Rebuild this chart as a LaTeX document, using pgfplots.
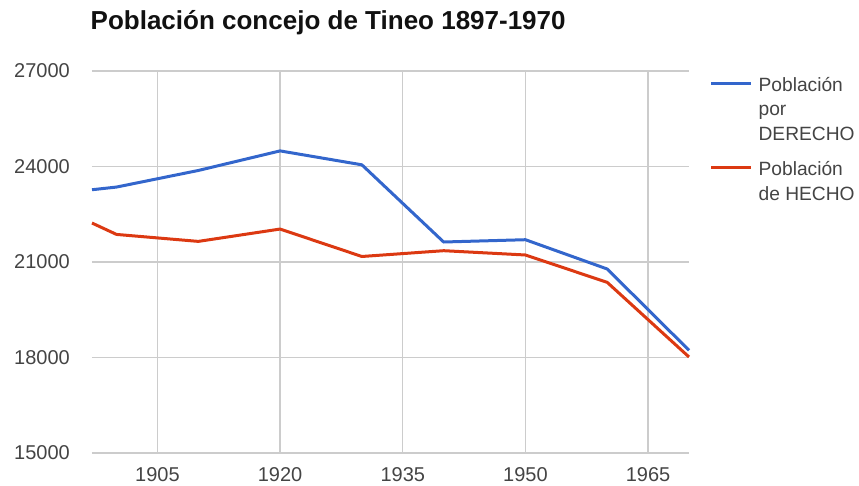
\documentclass[border=0pt]{standalone}
\usepackage{pgfplots}
\pgfplotsset{compat=1.18}
\usepackage{fontspec}
\setmainfont{Liberation Sans}
\definecolor{gblue}{HTML}{3366CC}
\definecolor{gred}{HTML}{DC3912}
\definecolor{ggrid}{HTML}{CCCCCC}
\definecolor{glabel}{HTML}{444444}
\definecolor{gtitle}{HTML}{111111}
\begin{document}
\begin{tikzpicture}[x=1pt,y=1pt]
\path[use as bounding box] (-92,-33) rectangle (767,453);
\begin{axis}[
  at={(0,0)}, anchor=south west,
  width=597pt, height=382pt, scale only axis,
  xmin=1897, xmax=1970, ymin=15000, ymax=27000,
  xtick={1905,1920,1935,1950,1965},
  ytick={15000,18000,21000,24000,27000},
  scaled ticks=false,
  grid=major, grid style={ggrid, line width=1.3pt},
  axis line style={draw=none}, major tick length=0pt,
  tick style={draw=none},
  /pgf/number format/assume math mode=true,
  /pgf/number format/set thousands separator={},
  tick label style={font=\fontsize{20}{24}\selectfont, text=glabel},
  yticklabel style={anchor=east, inner sep=0pt, xshift=-22pt},
  xticklabel style={anchor=north, inner sep=0pt, yshift=-14.7pt},
  title={Población concejo de Tineo 1897-1970},
  title style={at={(rel axis cs:0,1)}, anchor=base west, inner sep=0pt,
    xshift=-1.5pt, yshift=35.3pt, font=\fontsize{26}{30}\selectfont\bfseries, text=gtitle},
  legend style={at={(rel axis cs:1.0352,1.0016)}, anchor=north west,
    draw=none, fill=none, inner sep=0pt, outer sep=0pt,
    row sep=0pt, column sep=4.5pt,
    font=\fontsize{19.2}{27}\selectfont, text=glabel,
    cells={anchor=base west, inner sep=0pt, text height=18.9pt, text depth=8.1pt}},
  legend image code/.code={\draw[#1, line width=2.8pt] (0pt,8pt) -- (39.3pt,8pt);},
  clip=false,
]
\addplot[gblue, line width=3pt, line join=round] coordinates {
  (1897,23270) (1900,23354) (1910,23875) (1920,24490) (1930,24053)
  (1940,21628) (1950,21700) (1960,20780) (1970,18227)};
\addlegendentry{Población}
\addlegendimage{empty legend}
\addlegendentry{por}
\addlegendimage{empty legend}
\addlegendentry[text depth=12.8pt]{DERECHO}
\addplot[gred, line width=3pt, line join=round] coordinates {
  (1897,22224) (1900,21866) (1910,21647) (1920,22035) (1930,21173)
  (1940,21355) (1950,21220) (1960,20360) (1970,18016)};
\addlegendentry{Población}
\addlegendimage{empty legend}
\addlegendentry{de HECHO}
\end{axis}
\end{tikzpicture}
\end{document}
